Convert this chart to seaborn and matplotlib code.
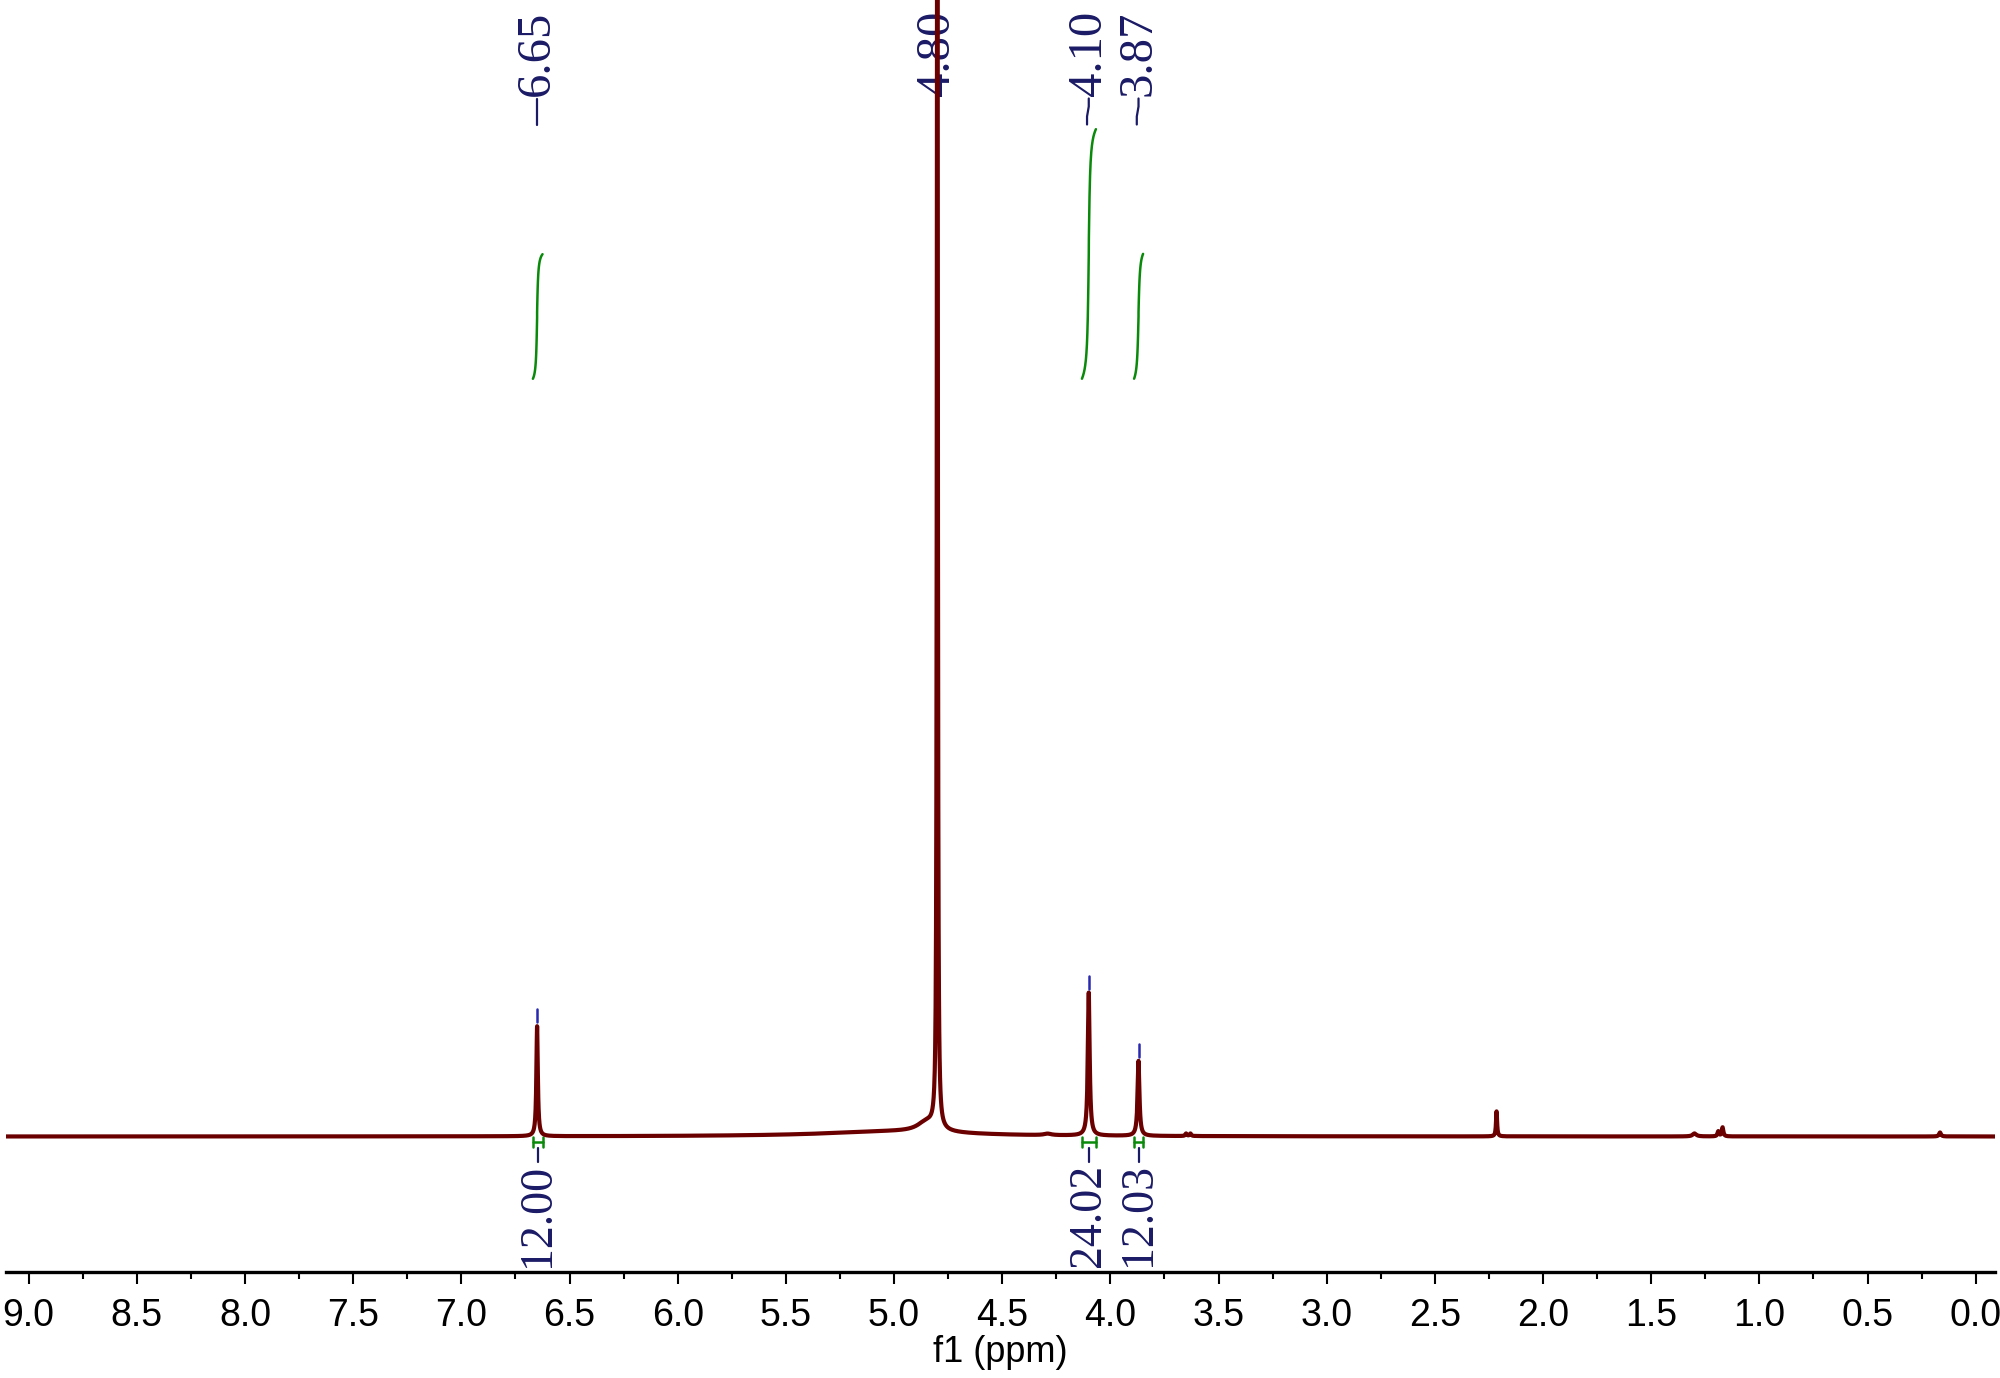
import numpy as np
import pandas as pd
import matplotlib
matplotlib.use('Agg')
import matplotlib.pyplot as plt
from matplotlib.ticker import MultipleLocator, FormatStrFormatter
import seaborn as sns

# peak list: position (ppm), height (above baseline), half width (ppm)
peak_ppm = [6.65, 4.80, 4.85, 5.00, 4.10, 3.87, 3.65, 3.63, 2.215, 1.30, 1.19, 1.17, 0.165, 4.29]
peak_height = [110, 1700, 10, 5, 143, 75, 2.5, 2.5, 25, 3, 5, 9, 4, 1.5]
peak_hwhm = [0.004, 0.0022, 0.05, 0.4, 0.005, 0.005, 0.004, 0.004, 0.003, 0.01, 0.004, 0.004, 0.005, 0.02]

# picked peaks (labels on top)
label_ppm = [6.65, 4.80, 4.10, 3.87]
label_text = ['6.65', '4.80', '4.10', '3.87']
marker_ppm = [6.65, 4.10, 3.87]

# integrals
integral_hi = [6.670, 4.132, 3.891]
integral_lo = [6.625, 4.067, 3.849]
integral_value = [12.00, 24.02, 12.03]
integral_text = ['12.00', '24.02', '12.03']

LINE = '#6a0000'
NAVY = '#1a1a66'
GREEN = '#0a8a0a'

# build the trace from the peak list
grid = np.sort(np.concatenate([np.arange(-0.2, 9.2, 0.0005), peak_ppm]))
spec = np.zeros_like(grid)
for p, h, w in zip(peak_ppm, peak_height, peak_hwhm):
    spec += h * w ** 2 / ((grid - p) ** 2 + w ** 2)
df = pd.DataFrame({'ppm': grid, 'intensity': spec})

sns.set_theme(style='white')
plt.rcParams['font.family'] = ['Liberation Sans', 'DejaVu Sans']

fig = plt.figure(figsize=(20, 13.78), dpi=100)
ax = fig.add_axes([6 / 2000, (1378 - 1272) / 1378, 1989 / 2000, 1272 / 1378])

sns.lineplot(data=df, x='ppm', y='intensity', ax=ax, color=LINE, linewidth=3,
             estimator=None, sort=False, zorder=3)

def spec_at(x):
    return np.interp(x, grid, spec)

# peak labels on top with connectors
for p, t in zip(label_ppm, label_text):
    ax.text(p, 1040, t, rotation=90, ha='center', va='bottom', color=NAVY,
            family='Liberation Serif', fontsize=35, zorder=1)
    if p == 6.65:
        ax.plot([p, p], [1012, 1038], color=NAVY, lw=1.6, zorder=1)
    elif p != 4.80:
        ax.plot([p, p, p + 0.008, p + 0.008], [1038, 1030, 1020, 1012],
                color=NAVY, lw=1.6, zorder=1)

# little peak markers
for p in marker_ppm:
    h = spec_at(p)
    ax.plot([p, p], [h + 4, h + 17], color='#2828b0', lw=1.8, zorder=4)

# integral curves, brackets and values
scale = 10.4
base = 757.5
for hi, lo, v, t in zip(integral_hi, integral_lo, integral_value, integral_text):
    m = (grid >= lo) & (grid <= hi)
    xs = grid[m][::-1]
    cum = np.cumsum(spec[m][::-1])
    cum = cum / cum[-1]
    ax.plot(xs, base + cum * v * scale, color=GREEN, lw=1.8, zorder=2)
    ax.plot([hi, lo], [-5.5, -5.5], color=GREEN, lw=1.8)
    ax.plot([hi, hi], [0, -10], color=GREEN, lw=1.8)
    ax.plot([lo, lo], [0, -10], color=GREEN, lw=1.8)
    c = (hi + lo) / 2
    ax.plot([c, c], [-11, -25], color=NAVY, lw=1.6)
    ax.text(c, -27, t, rotation=90, ha='center', va='top', color=NAVY,
            family='Liberation Serif', fontsize=33)

ax.set_xlim(9.105, -0.089)
ax.set_ylim(-135.5, 1136.5)
ax.xaxis.set_major_locator(MultipleLocator(0.5))
ax.xaxis.set_minor_locator(MultipleLocator(0.25))
ax.xaxis.set_major_formatter(FormatStrFormatter('%.1f'))
ax.set_yticks([])
for s in ['left', 'right', 'top']:
    ax.spines[s].set_visible(False)
ax.spines['bottom'].set_color('black')
ax.spines['bottom'].set_linewidth(2.4)
ax.tick_params(axis='x', which='major', bottom=True, length=8.6, width=1.5,
               color='black', labelsize=27, pad=10, labelcolor='black')
ax.tick_params(axis='x', which='minor', bottom=True, length=5, width=1.5, color='black')
ax.set_xlabel('f1 (ppm)', fontsize=26, color='black', labelpad=1)
ax.set_ylabel('')
ax.grid(False)

fig.savefig('out.png', dpi=100, facecolor='white')
